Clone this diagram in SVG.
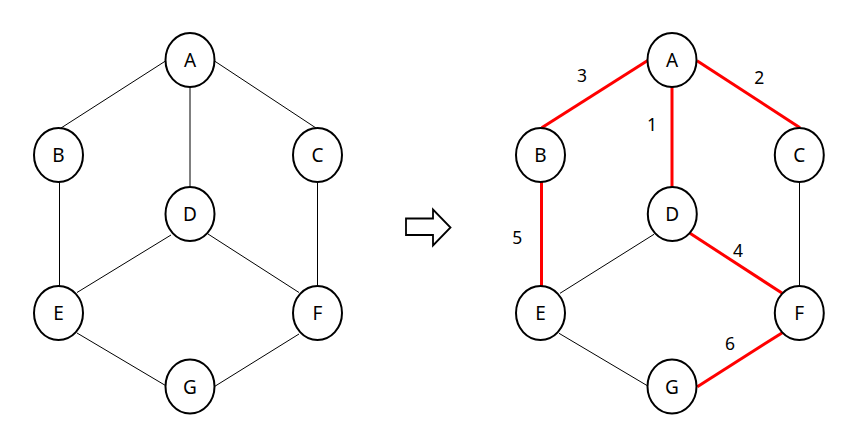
<svg xmlns="http://www.w3.org/2000/svg" width="861" height="426" viewBox="0 0 861 426">
<style>
.n ellipse{fill:#fff;stroke:#000;stroke-width:2}
.n text{font-family:"Noto Sans","Open Sans",sans-serif;font-size:19px;text-anchor:middle;fill:#000}
.e{stroke:#000;stroke-width:1;fill:none}
.r{stroke:#f00;stroke-width:3;fill:none}
.w{font-family:"Noto Sans","Open Sans",sans-serif;font-size:17.5px;text-anchor:middle;fill:#000}
</style>
<rect width="861" height="426" fill="#fff"/>
<g id="connectors">
<line class="e" x1="165.5" y1="61" x2="61" y2="128"/>
<line class="e" x1="214.5" y1="61" x2="316" y2="128"/>
<line class="e" x1="190" y1="87" x2="190" y2="187"/>
<line class="e" x1="59.5" y1="182" x2="59.5" y2="286"/>
<line class="e" x1="317.5" y1="182" x2="317.5" y2="286"/>
<line class="e" x1="171" y1="235" x2="77" y2="292.5"/>
<line class="e" x1="208" y1="234" x2="299" y2="292.5"/>
<line class="e" x1="77" y1="333" x2="165.5" y2="385.5"/>
<line class="e" x1="214.5" y1="386.5" x2="299" y2="334"/>
<line class="r" x1="647.7" y1="60.5" x2="541.7" y2="127.7"/>
<line class="r" x1="697" y1="60.7" x2="800" y2="127.7"/>
<line class="r" x1="672" y1="87" x2="672" y2="187"/>
<line class="r" x1="541.5" y1="182" x2="541.5" y2="286"/>
<line class="e" x1="799.5" y1="182" x2="799.5" y2="286"/>
<line class="e" x1="654" y1="234.3" x2="560" y2="293.3"/>
<line class="r" x1="690" y1="233.3" x2="782.3" y2="293.3"/>
<line class="e" x1="559" y1="333.3" x2="647.3" y2="385.7"/>
<line class="r" x1="697.3" y1="386.7" x2="782.3" y2="332.7"/>
</g>
<g id="arrow">
<path d="M406,218.5 H433 V209.5 L450.5,227.5 L433,245.5 V235 H406 Z" fill="#fff" stroke="#000" stroke-width="1.8" stroke-linejoin="miter"/>
</g>
<g id="L-A" class="n"><ellipse cx="190" cy="60" rx="24.5" ry="27"/><text x="190" y="67">A</text></g>
<g id="L-B" class="n"><ellipse cx="58.5" cy="155" rx="24.5" ry="27"/><text x="58.5" y="162">B</text></g>
<g id="L-C" class="n"><ellipse cx="317.5" cy="155" rx="24.5" ry="27"/><text x="317.5" y="162">C</text></g>
<g id="L-D" class="n"><ellipse cx="190" cy="214" rx="24.5" ry="27"/><text x="190" y="221">D</text></g>
<g id="L-E" class="n"><ellipse cx="58.5" cy="313" rx="24.5" ry="27"/><text x="58.5" y="320">E</text></g>
<g id="L-F" class="n"><ellipse cx="317.5" cy="313" rx="24.5" ry="27"/><text x="317.5" y="320">F</text></g>
<g id="L-G" class="n"><ellipse cx="190" cy="386.5" rx="24.5" ry="27"/><text x="190" y="393.5">G</text></g>
<g id="R-A" class="n"><ellipse cx="672" cy="60" rx="24.5" ry="27"/><text x="672" y="67">A</text></g>
<g id="R-B" class="n"><ellipse cx="540.5" cy="155" rx="24.5" ry="27"/><text x="540.5" y="162">B</text></g>
<g id="R-C" class="n"><ellipse cx="799.3" cy="155" rx="24.5" ry="27"/><text x="799.3" y="162">C</text></g>
<g id="R-D" class="n"><ellipse cx="672.3" cy="214" rx="24.5" ry="27"/><text x="672.3" y="221">D</text></g>
<g id="R-E" class="n"><ellipse cx="540.5" cy="313" rx="24.5" ry="27"/><text x="540.5" y="320">E</text></g>
<g id="R-F" class="n"><ellipse cx="799.3" cy="313" rx="24.5" ry="27"/><text x="799.3" y="320">F</text></g>
<g id="R-G" class="n"><ellipse cx="672" cy="386.5" rx="24.5" ry="27"/><text x="672" y="393.5">G</text></g>
<g id="weights">
<text class="w" x="582" y="82">3</text>
<text class="w" x="759.3" y="84">2</text>
<text class="w" x="652" y="131">1</text>
<text class="w" x="517.3" y="244">5</text>
<text class="w" x="738" y="256.5">4</text>
<text class="w" x="730" y="350">6</text>
</g>
</svg>
